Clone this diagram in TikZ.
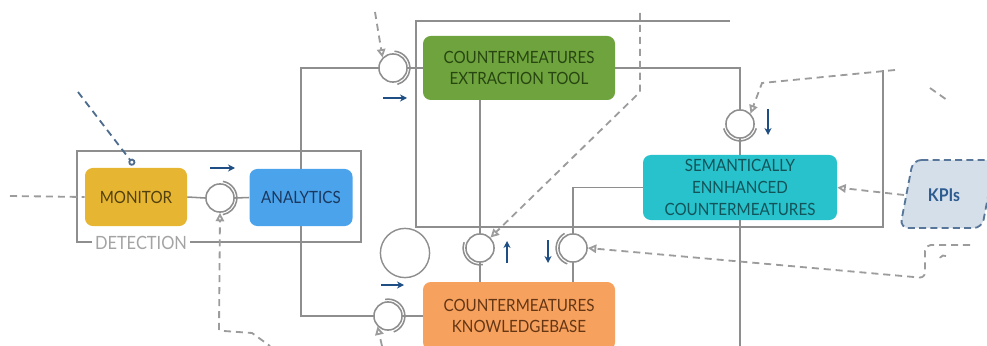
\documentclass[tikz,border=0pt]{standalone}
\usepackage{fontspec}
\setmainfont{Lato}[FakeStretch=0.9]
\usetikzlibrary{arrows.meta}
\pgfdeclarelayer{bg}
\pgfsetlayers{bg,main}

\definecolor{linegray}{HTML}{8E8E8E}
\definecolor{dashgray}{HTML}{9C9C9C}
\definecolor{detgray}{HTML}{A4A4A4}
\definecolor{flowblue}{HTML}{1F4E85}
\definecolor{probeblue}{HTML}{4E6C8E}
\definecolor{monfill}{HTML}{E6B532}
\definecolor{montext}{HTML}{524010}
\definecolor{anafill}{HTML}{4BA3EC}
\definecolor{anatext}{HTML}{1A385E}
\definecolor{extfill}{HTML}{6FA33D}
\definecolor{exttext}{HTML}{274612}
\definecolor{semfill}{HTML}{27C2CB}
\definecolor{semtext}{HTML}{13545A}
\definecolor{kbfill}{HTML}{F7A15E}
\definecolor{kbtext}{HTML}{653614}
\definecolor{kpifill}{HTML}{D4DFEA}
\definecolor{kpiline}{HTML}{57769A}
\definecolor{kpitext}{HTML}{2E5C90}

\newcommand\socket[3]{\draw[wire] ([shift={(#2:12pt)}]#1.center) arc[start angle=#2, end angle=#3, radius=12pt];}

\begin{document}
\begin{tikzpicture}[x=0.25mm,y=-0.25mm,
  comp/.style={rounded corners=5.5pt, inner sep=0pt, align=center,
               font=\fontsize{12}{15.5}\selectfont},
  port/.style={circle, draw=linegray, fill=white, line width=1.1pt,
               minimum size=20pt, inner sep=0pt},
  wire/.style={draw=linegray, line width=1.1pt},
  dashline/.style={draw=dashgray, line width=1.3pt, dash pattern=on 5pt off 3.5pt},
  dep/.style={dashline, -{Triangle[open,length=6pt,width=6pt]}},
  flow/.style={draw=flowblue, line width=1.3pt, -{Stealth[length=5pt,width=5pt]}},
]
\useasboundingbox (0,0) rectangle (987,346);

% components
\node[comp, fill=monfill, text=montext, minimum width=25.5mm, minimum height=14.5mm] (mon) at (136,197) {MONITOR};
\node[comp, fill=anafill, text=anatext, minimum width=25.75mm, minimum height=14.25mm] (ana) at (301,197.5) {ANALYTICS};
\node[comp, fill=extfill, text=exttext, minimum width=48mm, minimum height=16mm] (ext) at (519,68) {COUNTERMEATURES\\EXTRACTION TOOL};
\node[comp, fill=semfill, text=semtext, minimum width=48.5mm, minimum height=16.25mm] (sem) at (740,187.5) {SEMANTICALLY\\ENNHANCED\\COUNTERMEATURES};
\node[comp, fill=kbfill, text=kbtext, minimum width=48mm, minimum height=17mm] (kb) at (519,316) {COUNTERMEATURES\\KNOWLEDGEBASE};
\node[font=\bfseries\fontsize{12.5}{14}\selectfont, text=kpitext] (kpi) at (944,195) {KPIs};

% ports
\node[port] (p1) at (220,198) {};
\node[port] (p2) at (393,68) {};
\node[port] (p3) at (740,124) {};
\node[port] (p4) at (480,248) {};
\node[port] (p5) at (573,248) {};
\node[port] (p6) at (388,316) {};
\node[port, minimum size=35pt, line width=1pt] (hole) at (405,253) {};

\socket{p1}{80}{-80}
\socket{p2}{85}{-75}
\socket{p3}{195}{345}
\socket{p4}{160}{280}
\socket{p5}{120}{250}
\socket{p6}{100}{-70}

\node[fill=white, text=detgray, inner xsep=2pt, inner ysep=0pt,
      font=\fontsize{13}{14}\selectfont] (det) at (141,243) {DETECTION};

% dashed endpoints
\coordinate (inL) at (10,196);
\coordinate (probe) at (78,92);
\coordinate (upA) at (219,330);
\coordinate (upB) at (382,346);
\coordinate (topA) at (375,12);
\coordinate (topB) at (640,13);
\coordinate (bendB) at (640,92);
\coordinate (topC) at (895,70);
\coordinate (bendC) at (762,83);
\coordinate (rightD) at (970,245);
\coordinate (semdown) at (740,346);

\begin{pgfonlayer}{bg}
  % KPI data object
  \draw[draw=kpiline, fill=kpifill, line width=1.3pt, dash pattern=on 5pt off 3pt,
        rounded corners=6pt] (913,160) -- (995,160) -- (982,228) -- (900,228) -- cycle;
  % enclosures
  \draw[wire, line width=1pt] (77,151) rectangle (361,242);
  \draw[wire, line width=1pt] (730,21) -- (416,21) -- (416,227) -- (883,227) -- (883,70);
  % wiring
  \draw[wire] (mon.east) -- (p1.west);
  \draw[wire] (p1.east) -- (ana.west);
  \draw[wire] (p2.west) -| (ana.north);
  \draw[wire] (ana.south) |- (p6.west);
  \draw[wire] (p2.east) -- (ext.west);
  \draw[wire] (ext.east) -| (p3.north);
  \draw[wire] (p3.south) -- (sem.north);
  \draw[wire] (sem.west) -| (p5.north);
  \draw[wire] (sem.south) -- (semdown);
  \draw[wire] (p4.north) -- (p4 |- ext.south);
  \draw[wire] (p4.south) -- (p4 |- kb.north);
  \draw[wire] (p5.south) -- (p5 |- kb.north);
  \draw[wire] (p6.east) -- (kb.west);
  % dependencies
  \draw[dashline] (inL) -- (mon.west);
  \draw[dashline, draw=probeblue, -{Circle[open,length=5pt,width=5pt]}] (probe) -- (134,165);
  \draw[dep] (upA) -- (p1.south);
  \draw[dashline] (224,331) -- (252,333) -- (270,346);
  \draw[dep] (upB) -- (p6.south west);
  \draw[dep] (topA) -- (p2.north west);
  \draw[dep] (topB) -- (bendB) -- (p4.north east);
  \draw[dep] (topC) -- (bendC) -- (p3.north east);
  \draw[dashline] (930,88) -- (947,100);
  \draw[dep, rounded corners=4pt] (rightD) -- (925,245) -- (925,278) -- (p5.east);
  \draw[dashline] (946,256) arc[start angle=60, end angle=200, radius=3pt];
  \draw[dep] (904,195) -- (sem.east);
\end{pgfonlayer}

% data flow directions
\draw[flow] (210,168) -- (235,168);
\draw[flow] (383,98) -- (407,98);
\draw[flow] (768,109) -- (768,135);
\draw[flow] (507,263) -- (507,241);
\draw[flow] (548,240) -- (548,263);
\draw[flow] (381,285) -- (404,285);
\end{tikzpicture}
\end{document}
